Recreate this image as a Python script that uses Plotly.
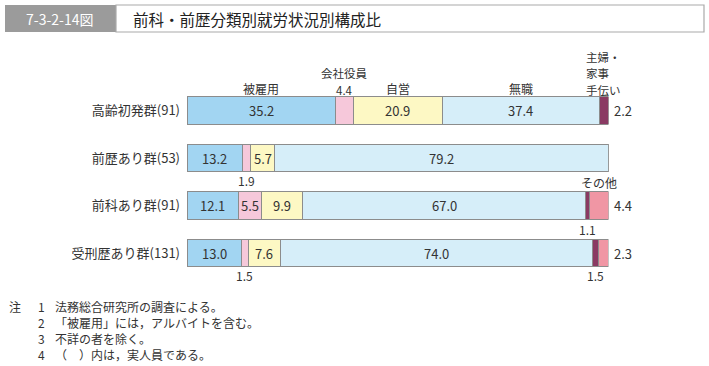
import plotly.graph_objects as go

W, H = 709, 366

categories = ["高齢初発群(91)", "前歴あり群(53)", "前科あり群(91)", "受刑歴あり群(131)"]
series = ["被雇用", "会社役員", "自営", "無職", "主婦・家事手伝い", "その他"]
employed = [35.2, 13.2, 12.1, 13.0]
executive = [4.4, 1.9, 5.5, 1.5]
self_employed = [20.9, 5.7, 9.9, 7.6]
unemployed = [37.4, 79.2, 67.0, 74.0]
housework = [2.2, 0.0, 1.1, 1.5]
other = [0.0, 0.0, 4.4, 2.3]
values = [employed, executive, self_employed, unemployed, housework, other]

colors = ["#a2d5f2", "#f6c8da", "#fdf8c4", "#d6eef9", "#8a3a63", "#f096a4"]
notes = [
    ("注", "1", "法務総合研究所の調査による。"),
    ("", "2", "「被雇用」には，アルバイトを含む。"),
    ("", "3", "不詳の者を除く。"),
    ("", "4", "（　）内は，実人員である。"),
]

FONT = "Noto Sans CJK JP"
TXT = "#333333"

fig = go.Figure()
for name, vals, col in zip(series, values, colors):
    fig.add_trace(go.Bar(
        y=categories, x=vals, name=name, orientation="h",
        marker=dict(color=col, line=dict(color="#8c8c8c", width=1)),
        width=0.57, hoverinfo="x+name",
    ))

def px(x):
    return x / W
def py(y):
    return 1 - y / H

ann = []
def A(**kw):
    kw.setdefault("showarrow", False)
    kw.setdefault("yanchor", "middle")
    kw.setdefault("xanchor", "center")
    ann.append(kw)

for ci, cat in enumerate(categories):
    start = 0.0
    for si, vals in enumerate(values):
        v = vals[ci]
        if v >= 5:
            A(x=start + v / 2, y=cat, xref="x", yref="y", text=f"{v:.1f}",
              font=dict(size=13, color=TXT))
        start += v

def cum(ci, si):
    return sum(values[k][ci] for k in range(si))

f12 = dict(size=12, color=TXT)
f11 = dict(size=11.5, color=TXT)
hdr_y = py(89)
A(x=cum(0, 0) + employed[0] / 2, y=hdr_y, xref="x", yref="paper", text="被雇用", font=f12)
A(x=cum(0, 1) + executive[0] / 2, y=py(72.5), xref="x", yref="paper", text="会社役員", font=f11)
A(x=cum(0, 1) + executive[0] / 2, y=py(89.5), xref="x", yref="paper",
  text=f"{executive[0]:.1f}", font=f11)
A(x=cum(0, 2) + self_employed[0] / 2, y=hdr_y, xref="x", yref="paper", text="自営", font=f12)
A(x=cum(0, 3) + unemployed[0] / 2, y=hdr_y, xref="x", yref="paper", text="無職", font=f12)
for txt, yy in [("主婦・", 56.5), ("家事", 73), ("手伝い", 89.5)]:
    A(x=cum(0, 4), y=py(yy), xref="x", yref="paper", xanchor="left", xshift=-16,
      text=txt, font=f11)
for ci, v in [(0, housework[0]), (2, other[2]), (3, other[3])]:
    A(x=100, y=categories[ci], xref="x", yref="y", xanchor="left", xshift=3,
      text=f"{v:.1f}", font=dict(size=13, color=TXT))
A(x=cum(2, 5) + other[2] / 2, y=py(182), xref="x", yref="paper", text="その他", font=f12)
below = [(1, 1, 180), (3, 1, 275), (2, 4, 229), (3, 4, 275)]
for ci, si, yy in below:
    v = values[si][ci]
    A(x=cum(ci, si) + v / 2, y=py(yy), xref="x", yref="paper", text=f"{v:.1f}", font=f12)

A(x=px(60), y=py(18.5), xref="paper", yref="paper", text="7-3-2-14図",
  font=dict(size=14, color="white", family=FONT))
A(x=px(131), y=py(18.5), xref="paper", yref="paper", xanchor="left",
  text="前科・前歴分類別就労状況別構成比", font=dict(size=15.5, color="#222222", family=FONT))

for i, (a, n, t) in enumerate(notes):
    yy = py(306 + 16.2 * i)
    if a:
        A(x=px(7), y=yy, xref="paper", yref="paper", xanchor="left", text=a, font=f12)
    A(x=px(36), y=yy, xref="paper", yref="paper", xanchor="left", text=n, font=f12)
    A(x=px(53), y=yy, xref="paper", yref="paper", xanchor="left", text=t, font=f12)

shapes = [
    dict(type="rect", xref="paper", yref="paper", x0=px(5), x1=px(116), y0=py(32), y1=py(5),
         fillcolor="#9b9b9b", line=dict(width=0)),
    dict(type="rect", xref="paper", yref="paper", x0=px(116), x1=px(704), y0=py(32), y1=py(5),
         fillcolor="white", line=dict(color="#aaaaaa", width=1.2)),
]

y0_px, step = 110.5, 47.5
fig.update_layout(
    width=W, height=H, margin=dict(l=0, r=0, t=0, b=0),
    paper_bgcolor="white", plot_bgcolor="white",
    barmode="stack", showlegend=False,
    font=dict(family=FONT, color=TXT),
    xaxis=dict(domain=[187 / W, 608.5 / W], range=[0, 100], visible=False, fixedrange=True),
    yaxis=dict(range=[(H - y0_px) / step, -y0_px / step], showgrid=False, zeroline=False,
               showline=False, ticks="", tickfont=dict(size=13, color=TXT),
               ticklabelstandoff=6, fixedrange=True),
    annotations=ann, shapes=shapes,
)

fig.write_html("out.html", post_script="document.body.style.margin='0';",
               config={"displayModeBar": False})
